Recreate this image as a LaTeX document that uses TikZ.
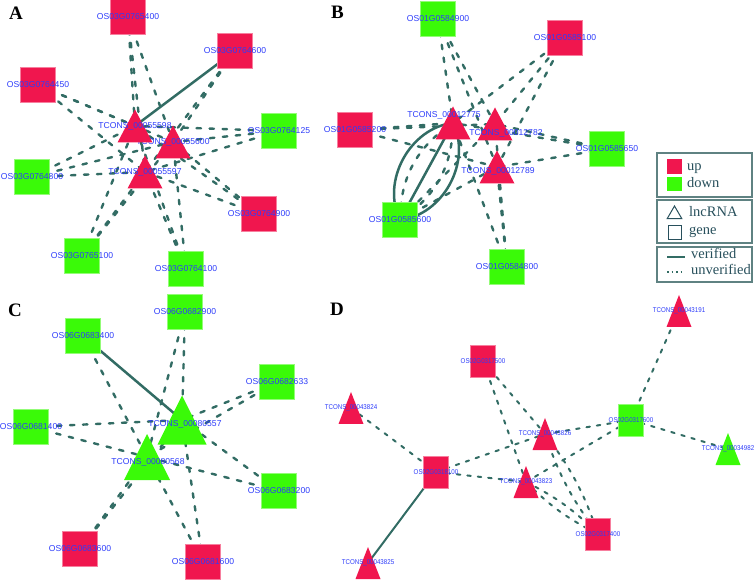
\documentclass[tikz,border=0pt]{standalone}
\usepackage{fontspec}
\setmainfont{Liberation Serif}
\newfontfamily\lblfont{Liberation Sans}
\newfontfamily\lblDfont[FakeStretch=0.88]{Liberation Sans}
\usetikzlibrary{shapes.geometric,backgrounds}

\definecolor{upred}{RGB}{240,22,78}
\definecolor{downgreen}{RGB}{58,250,8}
\definecolor{edgeteal}{RGB}{50,108,100}
\definecolor{lbltext}{RGB}{45,60,250}
\definecolor{legframe}{RGB}{95,130,130}
\definecolor{legtext}{RGB}{40,80,92}

\begin{document}
\begin{tikzpicture}[
  x=1pt, y=-1pt,
  gene/.style={rectangle, inner sep=0pt, minimum size=35pt, fill=#1, draw=#1!55!white, line width=0.6pt},
  geneD/.style={gene=#1, minimum width=25pt, minimum height=32pt},
  lnc/.style={rectangle, inner sep=0pt, minimum width=35pt, minimum height=33pt,
    path picture={\fill[#1] (path picture bounding box.south west) -- (path picture bounding box.south east)
      -- (path picture bounding box.north) -- cycle;}},
  lncbig/.style={lnc=#1, minimum width=49pt, minimum height=49pt},
  lncD/.style={lnc=#1, minimum width=25pt, minimum height=32pt},
  lbl/.style={font=\lblfont\fontsize{8.6}{9}\selectfont, text=lbltext, inner sep=0pt},
  lblD/.style={font=\lblDfont\fontsize{7}{8}\selectfont, text=lbltext, inner sep=0pt},
  panel/.style={font=\fontsize{19}{19}\selectfont\bfseries, text=black, anchor=base west, inner sep=0pt},
  unver/.style={draw=edgeteal, line width=2.4pt, line cap=round, dash pattern=on 4.5pt off 8.5pt},
  ver/.style={draw=edgeteal, line width=2.5pt},
  unverD/.style={unver, line width=2pt, dash pattern=on 3.5pt off 7pt},
  verD/.style={ver, line width=2pt},
  legbox/.style={draw=legframe, line width=1.2pt, minimum width=95pt, inner sep=0pt},
  legtxt/.style={font=\fontsize{14.5}{15}\selectfont, text=legtext, anchor=base west, inner sep=0pt},
]
\useasboundingbox (0,0) rectangle (756,580);

% panel A
\node[panel] (pA) at (9,20) {A};
\node[gene=upred, label={[lbl]center:OS03G0765400}] (a765400) at (128,17) {};
\node[gene=upred, label={[lbl]center:OS03G0764600}] (a764600) at (235,51) {};
\node[gene=upred, label={[lbl]center:OS03G0764450}] (a764450) at (38,85) {};
\node[gene=downgreen, label={[lbl]center:OS03G0764125}] (a764125) at (279,131) {};
\node[gene=downgreen, label={[lbl]center:OS03G0764800}] (a764800) at (32,177) {};
\node[gene=upred, label={[lbl]center:OS03G0764900}] (a764900) at (259,214) {};
\node[gene=downgreen, label={[lbl]center:OS03G0765100}] (a765100) at (82,256) {};
\node[gene=downgreen, label={[lbl]center:OS03G0764100}] (a764100) at (186,269) {};
\node[lnc=upred, label={[lbl]center:TCONS\_00055600}] (t55600) at (173,142) {};
\node[lnc=upred, label={[lbl]center:TCONS\_00055598}] (t55598) at (135,126) {};
\node[lnc=upred, label={[lbl]center:TCONS\_00055597}] (t55597) at (145,172) {};

% panel B
\node[panel] (pB) at (331,19) {B};
\node[gene=downgreen, label={[lbl]center:OS01G0584900}] (b584900) at (438,19) {};
\node[gene=upred, label={[lbl]center:OS01G0585100}] (b585100) at (565,38) {};
\node[gene=upred, label={[lbl]center:OS01G0585200}] (b585200) at (355,130) {};
\node[gene=downgreen, label={[lbl]center:OS01G0585650}] (b585650) at (607,149) {};
\node[gene=downgreen, label={[lbl]center:OS01G0585600}] (b585600) at (400,220) {};
\node[gene=downgreen, label={[lbl]center:OS01G0584800}] (b584800) at (507,267) {};
\node[lnc=upred, label={[lbl,xshift=-9pt,yshift=8pt]center:TCONS\_00012775}] (t12775) at (453,123) {};
\node[lnc=upred, label={[lbl,xshift=11pt,yshift=-9pt]center:TCONS\_00012782}] (t12782) at (495,124) {};
\node[lnc=upred, label={[lbl,xshift=1pt,yshift=-4pt]center:TCONS\_00012789}] (t12789) at (497,167) {};

% panel C
\node[panel] (pC) at (8,317) {C};
\node[gene=downgreen, label={[lbl]center:OS06G0682900}] (c682900) at (185,312) {};
\node[gene=downgreen, label={[lbl]center:OS06G0683400}] (c683400) at (83,336) {};
\node[gene=downgreen, label={[lbl]center:OS06G0682633}] (c682633) at (277,382) {};
\node[gene=downgreen, label={[lbl]center:OS06G0681400}] (c681400) at (31,427) {};
\node[gene=downgreen, label={[lbl]center:OS06G0683200}] (c683200) at (279,491) {};
\node[gene=upred, label={[lbl]center:OS06G0683600}] (c683600) at (80,549) {};
\node[gene=upred, label={[lbl]center:OS06G0681600}] (c681600) at (203,562) {};
\node[lncbig=downgreen, label={[lbl,xshift=3pt,yshift=-4pt]center:TCONS\_00080557}] (t80557) at (182,420) {};
\node[lncbig=downgreen, minimum width=46pt, minimum height=46pt,
      label={[lbl,xshift=1pt,yshift=-5pt]center:TCONS\_00080568}] (t80568) at (147,457) {};

% panel D
\node[panel] (pD) at (330,316) {D};
\node[geneD=upred, label={[lblD]center:OS02G0317500}] (d317500) at (483,361) {};
\node[lncD=upred, label={[lblD]center:TCONS\_00043191}] (t43191) at (679,311) {};
\node[lncD=upred, label={[lblD]center:TCONS\_00043824}] (t43824) at (351,408) {};
\node[geneD=downgreen, label={[lblD]center:OS02G0317600}] (d317600) at (631,420) {};
\node[lncD=upred, label={[lblD]center:TCONS\_00043826}] (t43826) at (545,434) {};
\node[lncD=downgreen, label={[lblD]center:TCONS\_00034982}] (t34982) at (728,449) {};
\node[geneD=upred, label={[lblD]center:OS02G0318100}] (d318100) at (436,472) {};
\node[lncD=upred, label={[lblD]center:TCONS\_00043823}] (t43823) at (526,482) {};
\node[geneD=upred, label={[lblD]center:OS02G0317400}] (d317400) at (598,534) {};
\node[lncD=upred, label={[lblD]center:TCONS\_00043825}] (t43825) at (368,563) {};

% legend
\node[legbox, minimum height=44pt] (kcolour) at (704.5,175) {};
\node[legbox, minimum height=43pt] (kshape) at (704.5,221.5) {};
\node[legbox, minimum height=35pt] (kline) at (704.5,264.5) {};
\node[rectangle, fill=upred, minimum size=15pt, inner sep=0pt] (kup) at (674.5,166.5) {};
\node[legtxt] (kuptxt) at (687,170.5) {up};
\node[rectangle, fill=downgreen, minimum size=14.5pt, inner sep=0pt] (kdown) at (674.5,184) {};
\node[legtxt] (kdowntxt) at (687,188) {down};
\node[regular polygon, regular polygon sides=3, draw=legtext, line width=1pt, minimum size=17pt, inner sep=0pt] (klnc) at (674.5,214.5) {};
\node[legtxt] (klnctxt) at (689,217) {lncRNA};
\node[rectangle, draw=legtext, line width=1pt, minimum size=13.5pt, inner sep=0pt] (kgene) at (675,232.5) {};
\node[legtxt] (kgenetxt) at (689,235) {gene};
\coordinate (kv1) at (667,257);
\coordinate (kv2) at (685,257);
\draw[edgeteal, line width=1.2pt] (kv1) -- (kv2);
\node[legtxt] (kvtxt) at (691,259) {verified};
\coordinate (ku1) at (667,272);
\coordinate (ku2) at (685,272);
\draw[edgeteal, line width=1.2pt, dash pattern=on 1.5pt off 3pt] (ku1) -- (ku2);
\node[legtxt] (kutxt) at (691,275) {unverified};

% interactions, under the nodes
\begin{scope}[on background layer]
  \foreach \g in {a765400,a764450,a764125,a764800,a764900,a765100,a764100}
    \foreach \t in {t55598,t55600,t55597}
      \draw[unver] (\g.center) -- (\t.center);
  \foreach \t in {t55600,t55597}
    \draw[unver] (a764600.center) -- (\t.center);
  \draw[ver] (a764600.center) -- (t55598.center);

  \foreach \g in {b584900,b585100,b585200,b585650,b584800}
    \foreach \t in {t12775,t12782,t12789}
      \draw[unver] (\g.center) -- (\t.center);
  \foreach \t in {t12782,t12789}
    \draw[unver] (b585600.center) -- (\t.center);
  \draw[ver] (b585600.center) to[bend left=55] (t12775.center);
  \draw[unver] (b585600.center) to[bend left=28] (t12775.center);
  \draw[ver] (b585600.center) -- (t12775.center);
  \draw[unver] (b585600.center) to[bend right=28] (t12775.center);
  \draw[ver] (b585600.center) to[bend right=55] (t12775.center);

  \foreach \g in {c682900,c682633,c681400,c683200,c683600,c681600}
    \foreach \t in {t80557,t80568}
      \draw[unver] (\g.center) -- (\t.center);
  \draw[unver] (c683400.center) -- (t80568.center);
  \draw[ver] (c683400.center) -- (t80557.center);

  \draw[verD] (d318100.center) -- (t43825.center);
  \draw[unverD] (t43191.center) -- (d317600.center);
  \draw[unverD] (d317600.center) -- (t34982.center);
  \draw[unverD] (t43824.center) -- (d318100.center);
  \foreach \t in {t43826,t43823} {
    \draw[unverD] (d317500.center) -- (\t.center);
    \draw[unverD] (d318100.center) -- (\t.center);
    \draw[unverD] (\t.center) -- (d317600.center);
    \draw[unverD] (\t.center) to[bend left=9] (d317400.center);
    \draw[unverD] (\t.center) to[bend right=9] (d317400.center);
  }
\end{scope}
\end{tikzpicture}
\end{document}
